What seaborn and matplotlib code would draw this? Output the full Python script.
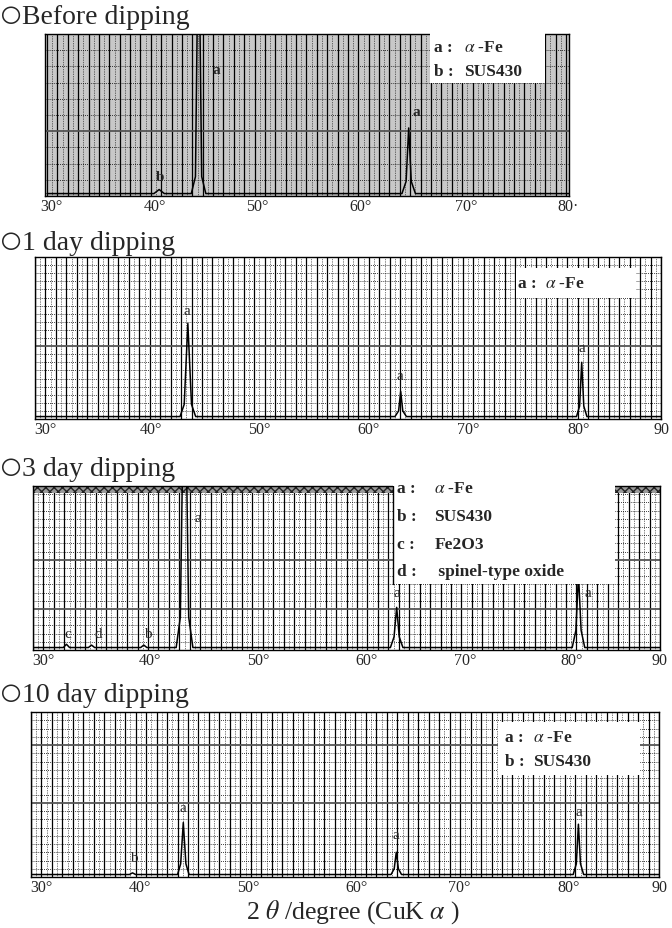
import matplotlib
matplotlib.use("Agg")
import matplotlib.pyplot as plt
import numpy as np
import pandas as pd
import seaborn as sns
from matplotlib.patches import Rectangle
from matplotlib.transforms import ScaledTranslation

sns.set_theme(style="white")
plt.rcParams["font.family"] = ["Liberation Serif", "DejaVu Serif"]
plt.rcParams["mathtext.fontset"] = "stix"

# ---------------- data ----------------
titles = ["Before dipping", "1 day dipping", "3 day dipping", "10 day dipping"]
title_mark = "〇"

before_2theta = [30.0, 40.3, 40.8, 41.3, 43.9, 44.3, 44.6, 44.9, 45.3, 64.2, 64.6, 64.85, 65.1, 65.5, 80.3]
before_int = [1.5, 1.5, 4, 1.5, 1.5, 12, 180, 12, 1.5, 1.5, 9, 42, 9, 1.5, 1.5]

day1_2theta = [30.0, 43.9, 44.3, 44.65, 45.0, 45.4, 64.5, 64.85, 65.05, 65.25, 65.6, 81.9, 82.2, 82.4, 82.6, 82.9, 90.0]
day1_int = [1.5, 1.5, 9, 59, 9, 1.5, 1.5, 5, 17, 5, 1.5, 1.5, 8, 35, 8, 1.5, 1.5]

day3_2theta = [30.0, 32.9, 33.2, 33.5, 35.3, 35.6, 35.9, 40.3, 40.6, 40.9, 43.7, 44.1, 44.5, 44.9, 45.3,
               64.2, 64.55, 64.8, 65.05, 65.4, 81.6, 81.95, 82.2, 82.45, 82.8, 90.0]
day3_int = [1.5, 1.5, 3.5, 1.5, 1.5, 3, 1.5, 1.5, 3, 1.5, 1.5, 20, 200, 20, 1.5,
            1.5, 8, 26, 8, 1.5, 1.5, 12, 46, 12, 1.5, 1.5]

day10_2theta = [30.0, 39.4, 39.7, 40.0, 44.0, 44.3, 44.55, 44.8, 45.1, 64.4, 64.7, 64.9, 65.1, 65.4,
                81.8, 82.1, 82.3, 82.5, 82.8, 90.0]
day10_int = [1.5, 1.5, 2.5, 1.5, 1.5, 8, 33, 8, 1.5, 1.5, 5, 15, 5, 1.5, 1.5, 8, 32, 8, 1.5, 1.5]

# peak labels: (2theta, height %, letter)
before_labels = [(46.3, 78, "a"), (65.6, 52, "a"), (40.9, 12, "b")]
day1_labels = [(44.6, 67, "a"), (65.0, 27, "a"), (82.4, 44, "a")]
day3_labels = [(45.8, 81, "a"), (64.8, 35, "a"), (83.1, 35, "a"),
               (33.35, 10, "c"), (36.2, 10, "d"), (41.0, 10, "b")]
day10_labels = [(44.5, 42, "a"), (64.9, 26, "a"), (82.3, 40, "a"), (39.8, 12, "b")]

before_ticks = [30, 40, 50, 60, 70, 80]
before_ticklabels = ["30°", "40°", "50°", "60°", "70°", "80·"]
ticks_90 = [30, 40, 50, 60, 70, 80, 90]
ticklabels_90 = ["30°", "40°", "50°", "60°", "70°", "80°", "90"]

phase_keys = ["a :", "b :", "c :", "d :"]
phase_names = [r"$\alpha$ -Fe", "SUS430", "Fe2O3", " spinel-type oxide"]

# ---------------- figure ----------------
W, H = 672, 929
fig = plt.figure(figsize=(W / 100, H / 100), dpi=100)
fig.patch.set_facecolor("white")


def ax_at(x0, y0, x1, y1):
    return fig.add_axes([x0 / W, 1 - y1 / H, (x1 - x0) / W, (y1 - y0) / H])


def chart_grid(ax, xmin, xmax, nh, solid_h, face):
    ax.set_facecolor(face)
    for v in np.arange(np.ceil(xmin), xmax + 0.01, 1.0):
        ax.axvline(v, color="black", lw=0.9, zorder=1)
    for v in np.arange(np.ceil(xmin) + 0.5, xmax, 1.0):
        ax.axvline(v, color="black", lw=0.5, ls=(0, (1, 1.5)), zorder=1)
    for k in range(1, nh):
        y = 100 * k / nh
        if k in solid_h:
            ax.axhline(y, color="#555555", lw=1.3, zorder=1)
        else:
            ax.axhline(y, color="black", lw=0.6, ls=(0, (1, 1.5)), zorder=1)


def finish(ax, xlim, ticks, labels, shifts):
    ax.set_xlim(*xlim)
    ax.set_ylim(0, 100)
    ax.set_xticks(ticks)
    ax.set_xticklabels(labels, fontsize=11.5)
    ax.set_yticks([])
    ax.tick_params(axis="x", length=0, pad=1.5)
    ax.set_xlabel("")
    ax.set_ylabel("")
    for lab, dx in zip(ax.get_xticklabels(), shifts):
        lab.set_transform(lab.get_transform() + ScaledTranslation(dx / 100, 0, fig.dpi_scale_trans))
    for s in ax.spines.values():
        s.set_color("black")
        s.set_linewidth(1.0)


def trace(ax, xs, ys):
    df = pd.DataFrame({"2theta": xs, "I": ys})
    sns.lineplot(data=df, x="2theta", y="I", ax=ax, color="black", lw=1.1,
                 estimator=None, sort=False, zorder=3)


def peak_labels(ax, labs, bold=False):
    for x, y, t in labs:
        ax.text(x, y, t, ha="center", va="center", fontsize=11,
                fontweight="bold" if bold else "normal", zorder=5)


def legend_box(ax, x0, x1, y0, y1, rows, kx, vx, ys, size=12.5):
    ax.add_patch(Rectangle((x0, y0), x1 - x0, y1 - y0, transform=ax.transAxes,
                           facecolor="white", edgecolor="none", zorder=4, clip_on=False))
    for (k, v), y in zip(rows, ys):
        ax.text(kx, y, k, transform=ax.transAxes, fontsize=size, fontweight="bold",
                va="center", ha="left", zorder=6)
        ax.text(vx, y, v, transform=ax.transAxes, fontsize=size, fontweight="bold",
                va="center", ha="left", zorder=6)


# ---- panel 1: before dipping ----
ax1 = ax_at(45, 35, 569, 197)
chart_grid(ax1, 29.8, 80.3, 10, [4], "#c8c8c8")
trace(ax1, before_2theta, before_int)
peak_labels(ax1, before_labels, bold=True)
finish(ax1, (29.8, 80.3), before_ticks, before_ticklabels, [4, 4, 3, 2, 4, 2])
legend_box(ax1, 0.735, 0.954, 0.70, 1.03,
           list(zip(phase_keys[:2], phase_names[:2])), 0.742, 0.80, [0.92, 0.77])

# ---- panel 2: 1 day ----
ax2 = ax_at(35, 258, 661, 420)
chart_grid(ax2, 30, 90, 20, [9], "white")
trace(ax2, day1_2theta, day1_int)
peak_labels(ax2, day1_labels)
finish(ax2, (30, 90), ticks_90, ticklabels_90, [10, 12, 16, 20, 16, 22, 0])
legend_box(ax2, 0.768, 0.96, 0.75, 0.93,
           list(zip(phase_keys[:1], phase_names[:1])), 0.772, 0.815, [0.84])

# ---- panel 3: 3 day ----
ax3 = ax_at(33, 487, 660, 651)
chart_grid(ax3, 30, 90, 20, [5, 11], "white")
ax3.axhspan(96, 100, facecolor="#9a9a9a", edgecolor="#222222", hatch="xxxx", lw=0, zorder=2)
trace(ax3, day3_2theta, day3_int)
peak_labels(ax3, day3_labels)
finish(ax3, (30, 90), ticks_90, ticklabels_90, [10, 12, 16, 20, 14, 16, 0])
legend_box(ax3, 0.574, 0.928, 0.40, 1.06,
           list(zip(phase_keys, phase_names)), 0.58, 0.64, [0.99, 0.82, 0.645, 0.48])
ax3.axvline(0.574 * 60 + 30, ymin=0.40, ymax=1.0, color="black", lw=1.0, zorder=5)

# ---- panel 4: 10 day ----
ax4 = ax_at(31, 713, 659, 878)
chart_grid(ax4, 30, 90, 20, [9, 16], "white")
trace(ax4, day10_2theta, day10_int)
peak_labels(ax4, day10_labels)
finish(ax4, (30, 90), ticks_90, ticklabels_90, [10, 4, 8, 12, 10, 14, 0])
legend_box(ax4, 0.744, 0.97, 0.62, 0.94,
           list(zip(phase_keys[:2], phase_names[:2])), 0.755, 0.80, [0.85, 0.70])

# ---- titles and axis label ----
for t, y in zip(titles, [18, 243, 470, 695]):
    fig.text(0 / W, 1 - y / H, title_mark, fontsize=14.5, ha="left", va="center",
             family=["Noto Sans CJK JP", "DejaVu Sans"])
    fig.text(22 / W, 1 - y / H, t, fontsize=20, ha="left", va="center")

fig.text(353 / W, 1 - 912 / H, r"2 $\theta$ /degree (CuK $\alpha$ )", fontsize=18.5,
         ha="center", va="center")

fig.savefig("out.png", dpi=100, facecolor="white")
